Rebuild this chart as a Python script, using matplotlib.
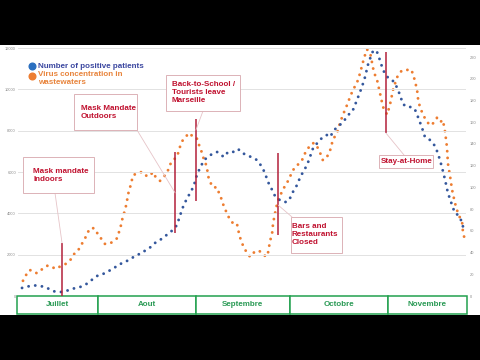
import matplotlib.pyplot as plt
import matplotlib.transforms as mtransforms
from matplotlib.patches import Rectangle, ConnectionPatch
from matplotlib.lines import Line2D

plt.rcParams['font.family'] = ['Liberation Sans', 'DejaVu Sans']

# days counted from 1 July
blue_days = [6.9, 8.2, 9.4, 11.0, 12.6, 14.2, 15.5, 16.7, 18.0, 19.3,
             20.5, 22.1, 23.7, 25.3, 26.9, 28.2, 29.4, 30.7, 32.0, 33.2,
             34.5, 35.8, 37.4, 38.6, 40.2, 41.8, 43.4, 45.0, 46.6, 47.8,
             49.1, 50.7, 52.0, 53.6, 54.8, 56.1, 57.0, 58.0, 59.3, 60.5,
             61.5, 62.4, 63.4, 64.7, 65.9, 67.2, 68.8, 70.1, 71.0, 72.3,
             73.9, 75.5, 76.7, 78.3, 79.6, 81.5, 83.1, 84.0, 85.0, 86.3,
             87.2, 88.2, 89.7, 91.0, 92.0, 92.9, 94.2, 95.1, 96.1, 97.4,
             98.3, 99.3, 100.9, 102.4, 103.7, 104.7, 105.6, 106.6, 107.8, 109.1,
             110.4, 111.7, 112.6, 113.6, 114.8, 115.8, 116.7, 118.0, 118.6, 119.6,
             120.5, 121.5, 122.8, 123.7, 125.3, 126.9, 127.8, 129.1, 130.7, 131.7,
             132.6, 133.9, 134.8, 136.4, 138.0, 139.0, 140.2, 141.2, 142.1, 143.4,
             144.3, 145.3, 146.6, 147.2]
blue_vals = [390, 435, 485, 510, 485, 435, 340, 240, 195, 195,
             240, 290, 385, 435, 530, 680, 820, 970, 1020, 1110,
             1210, 1355, 1450, 1600, 1695, 1840, 1985, 2080, 2275, 2370,
             2565, 2710, 2855, 3050, 3195, 3435, 3870, 4305, 4740, 5035,
             5370, 5855, 6195, 6580, 6725, 6870, 6970, 6825, 6725, 6970,
             6970, 7115, 6920, 6825, 6725, 6580, 6240, 5950, 5515, 5130,
             4840, 4695, 4550, 4550, 4740, 5035, 5370, 5710, 6000, 6340,
             6725, 7160, 7450, 7695, 7790, 7695, 7935, 8130, 8275, 8470,
             8760, 8905, 9240, 9630, 10115, 10600, 11180, 11760, 11905, 11805,
             11420, 10935, 10600, 10550, 10305, 9725, 9290, 9145, 9145, 9000,
             8660, 8130, 7695, 7550, 7260, 6870, 6240, 5615, 4985, 4405,
             4015, 3920, 3580, 3095]

orange_days = [7.2, 8.5, 9.4, 10.4, 11.7, 12.6, 14.2, 15.1, 16.4, 17.4,
               18.9, 20.2, 21.5, 22.8, 23.7, 24.7, 25.9, 26.9, 27.8, 29.1,
               30.4, 31.0, 32.3, 33.2, 34.5, 35.8, 37.0, 37.7, 38.3, 38.9,
               39.6, 40.2, 40.5, 41.2, 41.8, 42.1, 43.4, 44.4, 45.3, 46.6,
               47.5, 48.5, 49.4, 50.7, 51.7, 52.9, 53.9, 54.8, 56.1, 57.0,
               58.0, 59.3, 60.2, 61.2, 62.4, 63.1, 64.0, 64.7, 65.6, 65.9,
               66.6, 67.5, 68.8, 69.4, 70.4, 71.0, 72.0, 72.9, 73.9, 75.1,
               75.5, 76.1, 76.7, 77.4, 78.3, 79.3, 80.5, 81.8, 83.1, 84.3,
               85.0, 85.6, 86.3, 86.6, 87.2, 87.8, 88.5, 89.1, 89.7, 91.0,
               92.0, 92.6, 93.6, 94.5, 95.8, 96.4, 97.4, 98.3, 99.6, 100.9,
               101.5, 102.4, 103.7, 104.7, 105.6, 106.9, 107.8, 108.8, 110.1, 111.0,
               112.0, 113.2, 114.2, 115.1, 116.1, 116.4, 117.4, 118.0, 118.6, 119.6,
               120.5, 121.5, 122.8, 123.7, 124.7, 125.9, 126.9, 127.8, 129.1, 130.1,
               131.0, 131.7, 132.3, 132.6, 133.2, 134.2, 135.1, 136.4, 137.4, 138.6,
               139.6, 140.5, 141.2, 141.8, 142.1, 142.8, 143.4, 144.3, 145.3, 146.6,
               146.9, 147.5]
orange_vals = [14, 21, 24, 22, 21, 23, 27, 28, 27, 25,
               27, 28.5, 31, 35, 40, 42, 48, 53, 59, 63,
               61, 56, 52, 48, 48, 50, 53, 59, 65, 73,
               79, 87, 93, 100, 107, 111, 113, 114, 114, 110,
               111, 114, 109, 106, 109, 113, 121, 125, 128, 137,
               144, 148, 150, 146, 145, 139, 132, 125, 119, 111,
               105, 100, 100, 95, 88, 82, 76, 70, 67, 67,
               61, 54, 49, 44, 40, 36, 40, 42, 40, 36,
               40, 50, 58, 67, 76, 84, 91, 94, 98, 104,
               110, 114, 119, 121, 125, 130, 134, 139, 141, 136,
               132, 125, 128, 134, 144, 150, 159, 167, 176, 183,
               190, 196, 205, 215, 225, 227, 224, 215, 206, 199,
               187, 174, 167, 176, 190, 201, 206, 208, 208, 209,
               205, 197, 190, 182, 174, 167, 162, 157, 159, 164,
               160, 162, 151, 137, 122, 110, 98, 86, 76, 68,
               58, 52]

months = ['Juillet', 'Aout', 'Septembre', 'Octobre', 'Novembre']
month_edges = [5.3, 31, 62, 92, 123, 148.2]

# events: day, vertical extent (patients scale), label
event_days = [19.6, 55.5, 62.1, 88.2, 122.4]
event_lo = [0, 3050, 4600, 2950, 7890]
event_hi = [2565, 6970, 8565, 6920, 11810]
event_labels = ['Mask mandate\nIndoors', 'Mask Mandate\nOutdoors',
                'Back-to-School /\nTourists leave\nMarseille',
                'Bars and\nRestaurants\nClosed', 'Stay-at-Home']
# box (x0, y0, x1, y1) in pixels, text x, connector: box point (px) and line value
boxes = [(23, 157, 94, 193), (74, 94, 137, 130), (166, 75, 240, 111),
         (291, 217, 342, 253), (379, 155, 433, 168)]
text_x = [33, 81, 172, 292, 381]
conn_box = [(55, 193), (137, 130), (203, 111), (292, 217), (404, 155)]
conn_val = [2565, 4990, 8030, 4400, 7890]

W, H = 480, 360
def fp(x, y):
    return (x / W, 1 - y / H)

BLUE = '#34579c'
ORANGE = '#ed7d31'
RED = '#b3203a'
GREEN = '#22a04e'

fig = plt.figure(figsize=(4.8, 3.6), dpi=100, facecolor='black')
fig.add_artist(Rectangle((0, 45 / H), 1, 270 / H, transform=fig.transFigure,
                         facecolor='white', edgecolor='none', zorder=-10))

ax = fig.add_axes([18 / W, 64 / H, 448 / W, 248 / H])
ax2 = ax.twinx()
ax.set_zorder(ax2.get_zorder() + 1)
ax.patch.set_visible(False)

dots = (0, (0.01, 2.3))
ax2.plot(orange_days, orange_vals, color=ORANGE, lw=2.1, linestyle=dots,
         dash_capstyle='round')
ax.plot(blue_days, blue_vals, color=BLUE, lw=2.1, linestyle=dots,
        dash_capstyle='round')

ax.vlines(event_days, event_lo, event_hi, color=RED, lw=1.1, zorder=5)

for a in (ax, ax2):
    for s in a.spines.values():
        s.set_visible(False)
ax.set_xticks([])
ax.set_yticks(range(0, 12001, 2000))
ax2.set_yticks(range(0, 221, 20))
ax.tick_params(axis='y', labelsize=2.9, colors='#8c8c8c', length=0, pad=1.5)
ax2.tick_params(axis='y', labelsize=2.9, colors='#8c8c8c', length=0, pad=3)
ax.yaxis.grid(True, color='#e2e2e2', lw=0.7)
ax.set_axisbelow(True)

# month boxes under the plot
trans = mtransforms.blended_transform_factory(ax.transData, fig.transFigure)
for i, name in enumerate(months):
    s, e = month_edges[i], month_edges[i + 1]
    ax.add_patch(Rectangle((s, 1 - 314 / H), e - s, 18 / H, transform=trans,
                           facecolor='white', edgecolor=GREEN, lw=1.1,
                           clip_on=False, zorder=4))
    ax.text((s + e) / 2, 1 - 304.5 / H, name, transform=trans, ha='center',
            va='center', color='#2a9a55', fontsize=5.8, fontweight='bold',
            zorder=6)

# annotation boxes
for i, lab in enumerate(event_labels):
    x0, y0, x1, y1 = boxes[i]
    fig.add_artist(ConnectionPatch(xyA=fp(*conn_box[i]), coordsA=fig.transFigure,
                                   xyB=(event_days[i], conn_val[i]), coordsB=ax.transData,
                                   color='#e6c4c8', lw=0.6, zorder=6))
    fig.add_artist(Rectangle(fp(x0, y1), (x1 - x0) / W, (y1 - y0) / H,
                             transform=fig.transFigure, facecolor='white',
                             edgecolor='#dcb2b7', lw=0.7, zorder=7))
    fig.text(text_x[i] / W, 1 - (y0 + y1) / 2 / H, lab, ha='left', va='center',
             color='#c0112f', fontsize=5.8, fontweight='bold', linespacing=1.2,
             zorder=8)

# legend
fig.add_artist(Line2D([32 / W], [1 - 66 / H], marker='o', ms=4.8, lw=0,
                      color='#2a6fc0', transform=fig.transFigure))
fig.add_artist(Line2D([32 / W], [1 - 76 / H], marker='o', ms=4.8, lw=0,
                      color=ORANGE, transform=fig.transFigure))
fig.text(38 / W, 1 - 66 / H, 'Number of positive patients', va='center',
         color='#3b47a0', fontsize=5.8, fontweight='bold')
fig.text(38 / W, 1 - 71.5 / H, 'Virus concentration in\nwastewaters', va='top',
         color='#e8843c', fontsize=5.8, fontweight='bold', linespacing=1.2)

ax.set_xlim(5.62, 147.84)
ax.set_ylim(0, 12000)
ax2.set_ylim(0, 228.3)

fig.savefig('out.png', dpi=100, facecolor='black')
